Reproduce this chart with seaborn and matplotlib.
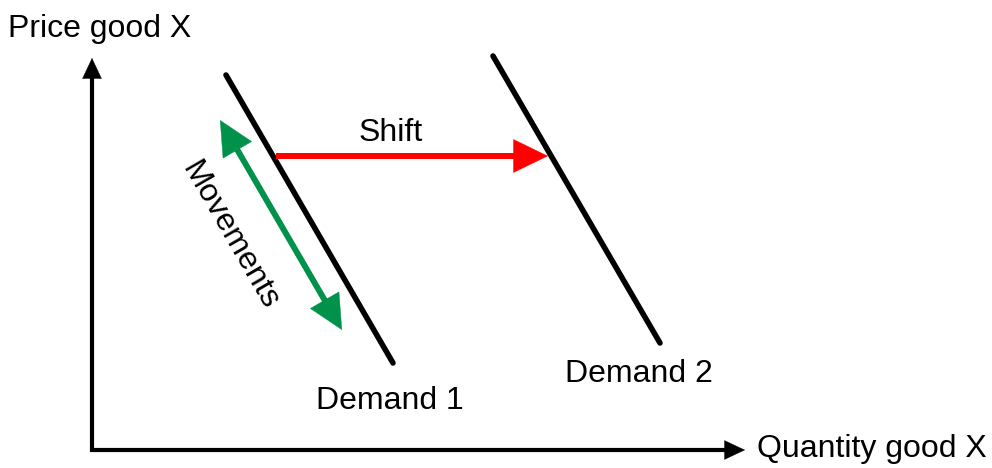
import matplotlib
matplotlib.use("Agg")
import matplotlib.pyplot as plt
import seaborn as sns
import pandas as pd
import numpy as np

# Data (pixel-like schematic coordinates, y grows downward)
demand_names = ["Demand 1", "Demand 1", "Demand 2", "Demand 2"]
demand_x = [226, 393, 493, 660]
demand_y = [75, 363, 56, 343]

axis_x_start = [90, 450]
axis_x_end = [745, 450]
axis_y_start = [92, 452]
axis_y_end = [92, 58]

shift_start = [276, 156]
shift_end = [548, 156]
move_start = [220, 120]
move_end = [342, 330]

labels = ["Price good X", "Quantity good X", "Shift", "Movements", "Demand 1", "Demand 2"]

sns.set_style("white")
plt.rcParams["font.family"] = ["Liberation Sans", "DejaVu Sans"]

fig = plt.figure(figsize=(9.92, 4.68), dpi=100)
ax = fig.add_axes([0, 0, 1, 1])
ax.set_xlim(0, 992)
ax.set_ylim(468, 0)
ax.axis("off")

df = pd.DataFrame({"curve": demand_names, "x": demand_x, "y": demand_y})
sns.lineplot(data=df, x="x", y="y", units="curve", estimator=None, sort=False,
             color="black", linewidth=4.0, ax=ax, legend=False)

def arrow(start, end, color, lw, hl, hw, both=False):
    s = np.array(start, float)
    e = np.array(end, float)
    u = (e - s) / np.linalg.norm(e - s)
    back = hl * 100 / 72 * 0.6
    s2 = s + u * back if both else s
    e2 = e - u * back
    ax.plot([s2[0], e2[0]], [s2[1], e2[1]], color=color, lw=lw,
            solid_capstyle="butt")
    style = "<|-|>" if both else "-|>"
    ax.annotate("", xy=end, xytext=start,
                arrowprops=dict(arrowstyle=f"{style},head_length={hl},head_width={hw}",
                                color=color, lw=0.3, shrinkA=0, shrinkB=0,
                                mutation_scale=1, joinstyle="miter"))

arrow(axis_x_start, axis_x_end, "black", 3.0, 14.4, 6.8)
arrow(axis_y_start, axis_y_end, "black", 3.0, 14.4, 6.8)
arrow(shift_start, shift_end, "#ff0000", 4.3, 24.5, 11.9)
arrow(move_start, move_end, "#00924a", 4.3, 24.5, 11.9, both=True)

fs = 23
tc = "black"
ax.text(8, 37, labels[0], fontsize=fs, ha="left", va="baseline", color=tc)
ax.text(757, 457, labels[1], fontsize=fs, ha="left", va="baseline", color=tc)
ax.text(391, 141, labels[2], fontsize=fs, ha="center", va="baseline", color=tc)
ax.text(230, 236, labels[3], fontsize=fs, ha="center", va="center", color=tc,
        rotation=-60, rotation_mode="anchor")
ax.text(390, 409, labels[4], fontsize=fs, ha="center", va="baseline", color=tc)
ax.text(639, 382, labels[5], fontsize=fs, ha="center", va="baseline", color=tc)

fig.savefig("out.png", dpi=100)
